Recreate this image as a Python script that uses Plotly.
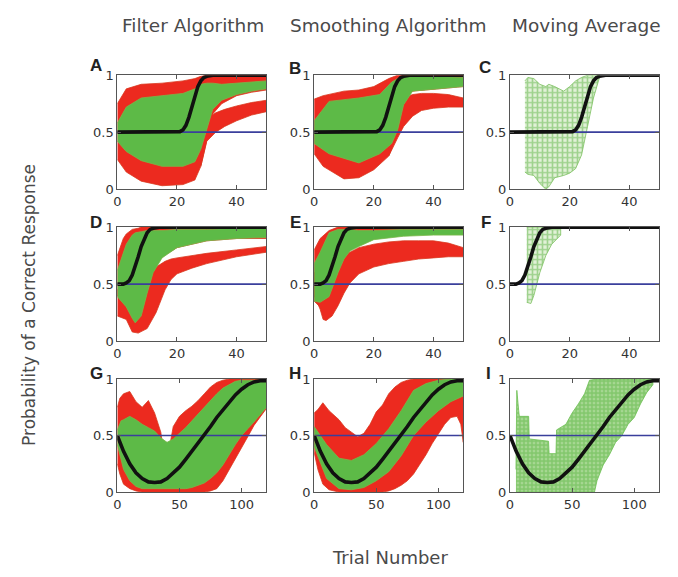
import plotly.graph_objects as go

# ---------------- data ----------------
# true probability curves (black)
X_SIG = [0, 5, 10, 15, 18, 20, 21, 22, 23, 24, 25, 26, 27, 28, 29, 30, 32, 35, 40, 45, 50]
TRUE_SIG = [0.5, 0.5, 0.5, 0.5, 0.5, 0.5, 0.505, 0.52, 0.56, 0.63, 0.72, 0.82, 0.9, 0.95, 0.98, 0.99, 1.0, 1.0, 1.0, 1.0, 1.0]
X_FAST = [0, 1, 2, 3, 4, 5, 6, 7, 8, 9, 10, 11, 12, 14, 20, 30, 40, 50]
TRUE_FAST = [0.5, 0.5, 0.5, 0.51, 0.53, 0.58, 0.65, 0.74, 0.83, 0.9, 0.95, 0.98, 0.99, 1.0, 1.0, 1.0, 1.0, 1.0]
X_SLOW = [0, 5, 10, 15, 20, 25, 30, 35, 40, 45, 50, 55, 60, 65, 70, 75, 80, 85, 90, 95, 100, 105, 110, 115, 120]
TRUE_SLOW = [0.5, 0.36, 0.25, 0.17, 0.12, 0.09, 0.085, 0.09, 0.12, 0.17, 0.22, 0.29, 0.36, 0.43, 0.5,
             0.58, 0.66, 0.73, 0.8, 0.86, 0.91, 0.95, 0.975, 0.985, 0.985]

# Panel A (filter, row 1)
A_R1_X = [0, 3, 8, 15, 22, 26, 28, 30, 32, 35, 40, 45, 50]
A_R1_HI = [0.75, 0.88, 0.92, 0.93, 0.95, 0.97, 0.99, 1.0, 1.0, 1.0, 1.0, 1.0, 1.0]
A_R1_LO = [0.26, 0.15, 0.07, 0.03, 0.04, 0.08, 0.20, 0.42, 0.66, 0.75, 0.82, 0.85, 0.87]
A_R2_X = [28, 30, 33, 36, 40, 45, 50]
A_R2_HI = [0.50, 0.62, 0.67, 0.70, 0.73, 0.76, 0.78]
A_R2_LO = [0.20, 0.42, 0.50, 0.55, 0.60, 0.65, 0.68]
A_G_X = [0, 3, 8, 15, 22, 26, 28, 30, 32, 35, 40, 45, 50]
A_G_HI = [0.58, 0.72, 0.80, 0.82, 0.84, 0.88, 0.92, 0.93, 0.93, 0.92, 0.93, 0.94, 0.95]
A_G_LO = [0.42, 0.33, 0.25, 0.20, 0.20, 0.24, 0.35, 0.52, 0.70, 0.78, 0.83, 0.86, 0.88]

# Panel B (smoothing, row 1)
B_R1_X = [0, 3, 10, 15, 20, 25, 27, 28, 30, 33, 36, 40, 50]
B_R1_HI = [0.79, 0.82, 0.86, 0.87, 0.90, 0.97, 0.99, 1.0, 1.0, 1.0, 1.0, 1.0, 1.0]
B_R1_LO = [0.31, 0.20, 0.09, 0.10, 0.17, 0.29, 0.43, 0.54, 0.82, 0.86, 0.87, 0.88, 0.90]
B_R2_X = [25, 28, 30, 33, 36, 40, 45, 50]
B_R2_HI = [0.55, 0.75, 0.80, 0.83, 0.84, 0.84, 0.83, 0.80]
B_R2_LO = [0.29, 0.45, 0.55, 0.64, 0.69, 0.71, 0.72, 0.72]
B_G_X = [0, 5, 15, 22, 26, 28, 30, 33, 40, 50]
B_G_HI = [0.60, 0.77, 0.80, 0.83, 0.94, 0.97, 0.99, 1.0, 0.99, 0.98]
B_G_LO = [0.40, 0.31, 0.23, 0.31, 0.40, 0.52, 0.74, 0.86, 0.88, 0.90]

# Panel C (moving average, row 1)
C_G_X = [5, 6, 8, 10, 12, 13, 15, 18, 20, 22, 24, 26, 28, 30]
C_G_HI = [0.95, 0.98, 0.97, 0.92, 0.90, 0.92, 0.90, 0.86, 0.90, 0.95, 0.98, 1.0, 1.0, 1.0]
C_G_LO = [0.15, 0.13, 0.12, 0.05, 0.0, 0.02, 0.10, 0.12, 0.14, 0.18, 0.30, 0.55, 0.80, 0.98]

# Panel D (filter, row 2)
D_R1_X = [0, 2, 3, 5, 7, 8, 10, 12, 15, 20, 30, 40, 50]
D_R1_HI = [0.75, 0.90, 0.94, 0.98, 0.99, 1.0, 1.0, 1.0, 1.0, 1.0, 1.0, 1.0, 1.0]
D_R1_LO = [0.40, 0.35, 0.30, 0.25, 0.25, 0.30, 0.45, 0.62, 0.74, 0.82, 0.88, 0.90, 0.90]
D_R2_X = [0, 3, 5, 7, 10, 13, 16, 18, 20, 25, 30, 40, 50]
D_R2_HI = [0.45, 0.50, 0.50, 0.52, 0.56, 0.65, 0.70, 0.72, 0.73, 0.75, 0.77, 0.80, 0.83]
D_R2_LO = [0.22, 0.19, 0.08, 0.07, 0.11, 0.25, 0.45, 0.54, 0.59, 0.64, 0.68, 0.74, 0.78]
D_G_X = [0, 3, 5, 6, 8, 10, 12, 15, 20, 30, 40, 50]
D_G_HI = [0.62, 0.85, 0.93, 0.95, 0.96, 0.97, 0.97, 0.97, 0.98, 0.98, 0.99, 0.99]
D_G_LO = [0.39, 0.30, 0.20, 0.16, 0.22, 0.42, 0.60, 0.73, 0.82, 0.88, 0.90, 0.91]

# Panel E (smoothing, row 2)
E_R1_X = [0, 2, 5, 8, 10, 12, 15, 20, 30, 40, 50]
E_R1_HI = [0.80, 0.90, 0.97, 1.0, 1.0, 1.0, 1.0, 1.0, 1.0, 1.0, 1.0]
E_R1_LO = [0.35, 0.30, 0.30, 0.50, 0.70, 0.80, 0.84, 0.90, 0.93, 0.94, 0.94]
E_R2_X = [0, 2, 3, 4, 6, 8, 10, 12, 15, 20, 25, 30, 35, 40, 45, 50]
E_R2_HI = [0.60, 0.60, 0.60, 0.62, 0.65, 0.70, 0.74, 0.78, 0.82, 0.85, 0.87, 0.88, 0.88, 0.88, 0.86, 0.82]
E_R2_LO = [0.40, 0.28, 0.19, 0.18, 0.22, 0.31, 0.42, 0.51, 0.59, 0.65, 0.68, 0.70, 0.72, 0.73, 0.74, 0.74]
E_G_X = [0, 2, 5, 8, 10, 12, 15, 20, 30, 40, 50]
E_G_HI = [0.68, 0.78, 0.95, 0.98, 0.98, 0.98, 0.97, 0.97, 0.98, 0.98, 0.98]
E_G_LO = [0.35, 0.34, 0.39, 0.60, 0.72, 0.79, 0.83, 0.89, 0.92, 0.93, 0.93]

# Panel F (moving average, row 2)
F_G_X = [5.6, 7, 8, 9, 10, 12, 14, 17]
F_G_HI = [1.0, 1.0, 1.0, 1.0, 1.0, 1.0, 1.0, 1.0]
F_G_LO = [0.34, 0.33, 0.40, 0.50, 0.60, 0.75, 0.85, 0.93]

# Panel G (filter, row 3)
G_R_X = [0, 2, 5, 10, 15, 20, 25, 30, 35, 38, 42, 45, 50, 55, 60, 65, 70, 75, 80, 85, 90, 95, 100, 105, 110, 115, 120]
G_R_HI = [0.75, 0.83, 0.87, 0.89, 0.80, 0.75, 0.81, 0.70, 0.53, 0.29, 0.40, 0.58, 0.67, 0.72, 0.76, 0.81, 0.87,
          0.93, 0.97, 0.99, 1.0, 1.0, 1.0, 1.0, 1.0, 1.0, 1.0]
G_R_LO = [0.25, 0.16, 0.07, 0.03, 0.01, 0.0, 0.0, 0.0, 0.0, 0.0, 0.0, 0.0, 0.0, 0.0, 0.0, 0.0, 0.0,
          0.01, 0.03, 0.10, 0.19, 0.29, 0.39, 0.49, 0.59, 0.67, 0.74]
G_G_X = [0, 3, 5, 10, 15, 20, 25, 30, 35, 40, 45, 50, 55, 60, 65, 70, 75, 80, 85, 90, 95, 100, 105, 110, 115, 120]
G_G_HI = [0.55, 0.63, 0.64, 0.67, 0.64, 0.60, 0.57, 0.54, 0.48, 0.44, 0.47, 0.52, 0.57, 0.63, 0.69, 0.75, 0.81,
          0.87, 0.92, 0.95, 0.98, 0.99, 0.99, 0.99, 0.99, 0.99]
G_G_LO = [0.42, 0.28, 0.20, 0.10, 0.05, 0.03, 0.03, 0.03, 0.03, 0.03, 0.03, 0.03, 0.03, 0.04, 0.06, 0.08, 0.12,
          0.17, 0.24, 0.33, 0.42, 0.50, 0.56, 0.62, 0.68, 0.75]

# Panel H (smoothing, row 3)
H_R_X = [0, 3, 7, 12, 20, 25, 30, 35, 40, 45, 50, 55, 60, 65, 70, 75, 80, 85, 90, 95, 100, 105, 110, 115, 118, 120]
H_R_HI = [0.70, 0.73, 0.79, 0.72, 0.64, 0.57, 0.53, 0.49, 0.52, 0.60, 0.71, 0.77, 0.87, 0.93, 0.97, 0.99,
          1.0, 1.0, 1.0, 1.0, 1.0, 1.0, 1.0, 1.0, 1.0, 1.0]
H_R_LO = [0.35, 0.20, 0.07, 0.02, 0.0, 0.0, 0.0, 0.0, 0.0, 0.0, 0.0, 0.0, 0.01, 0.03, 0.06, 0.10,
          0.16, 0.24, 0.33, 0.43, 0.52, 0.60, 0.66, 0.67, 0.60, 0.44]
H_G_X = [0, 10, 20, 30, 40, 50, 60, 70, 80, 90, 100, 110, 120]
H_G_HI = [0.58, 0.42, 0.30, 0.28, 0.33, 0.43, 0.56, 0.72, 0.90, 0.96, 0.99, 1.0, 1.0]
H_G_LO = [0.40, 0.12, 0.03, 0.02, 0.04, 0.10, 0.18, 0.32, 0.50, 0.62, 0.72, 0.80, 0.85]

# Panel I (moving average, row 3)
I_TOP_X = [4.8, 5.5, 7, 7.5, 15, 15.5, 31, 31.5, 37, 37.5, 45, 50, 55, 60, 64, 70, 115]
I_TOP = [0.2, 0.9, 0.72, 0.67, 0.67, 0.47, 0.45, 0.34, 0.34, 0.55, 0.6, 0.7, 0.78, 0.87, 0.99, 1.0, 1.0]
I_BOT_X = [4.8, 68, 70, 75, 80, 85, 90, 95, 100, 105, 110, 115]
I_BOT = [0.0, 0.0, 0.1, 0.24, 0.33, 0.44, 0.5, 0.6, 0.66, 0.78, 0.88, 0.95]

COLUMN_TITLES = ["Filter Algorithm", "Smoothing Algorithm", "Moving Average"]
PANEL_LETTERS = ["A", "B", "C", "D", "E", "F", "G", "H", "I"]
Y_TICKS = [0, 0.5, 1]
Y_TICKTEXT = ["0", "0.5", "1"]
X_TICKS_SHORT = [0, 20, 40]
X_TICKS_LONG = [0, 50, 100]

# ---------------- styling / layout ----------------
W, H = 678, 577
COL_PX = [(114, 264), (312, 462), (509, 659)]
ROW_PX = [(70, 187), (226, 343), (382, 498)]
LETTER_PX = [(93, 60), (293, 63), (484, 62), (93, 221), (293, 221), (485, 221),
             (93, 376), (293, 376), (487, 376)]
RED = "#ec2a1f"
RED_EDGE = "#d9381f"
GREEN = "#5dba47"
GREEN_EDGE = "#79b84a"
BLUE = "#3a3f9c"
AXC = "#555555"
FONT = "DejaVu Sans"

fig = go.Figure()


def axnames(k):
    return ("x" if k == 1 else f"x{k}"), ("y" if k == 1 else f"y{k}")


def band(k, xh, yh, xl, yl, color, edge, pattern=None, opacity=1.0):
    xa, ya = axnames(k)
    xs = list(xh) + list(xl)[::-1]
    ys = list(yh) + list(yl)[::-1]
    kw = dict(x=xs, y=ys, fill="toself", mode="lines", line=dict(width=0.8, color=edge),
              fillcolor=color, hoverinfo="skip", showlegend=False, xaxis=xa, yaxis=ya,
              opacity=opacity)
    if pattern:
        kw["fillpattern"] = pattern
    fig.add_trace(go.Scatter(**kw))


def line(k, xs, ys, color, width):
    xa, ya = axnames(k)
    fig.add_trace(go.Scatter(x=xs, y=ys, mode="lines", line=dict(color=color, width=width),
                             hoverinfo="skip", showlegend=False, xaxis=xa, yaxis=ya))


HATCH = dict(shape="+", fgcolor="#5cb444", bgcolor="#e2f1d8", size=5, solidity=0.55)
HATCH_DENSE = dict(shape="+", fgcolor="#5db745", bgcolor="#a6d792", size=4, solidity=0.6)

# A
band(1, A_R1_X, A_R1_HI, A_R1_X, A_R1_LO, RED, RED_EDGE)
band(1, A_R2_X, A_R2_HI, A_R2_X, A_R2_LO, RED, RED_EDGE)
band(1, A_G_X, A_G_HI, A_G_X, A_G_LO, GREEN, GREEN_EDGE)
# B
band(2, B_R1_X, B_R1_HI, B_R1_X, B_R1_LO, RED, RED_EDGE)
band(2, B_R2_X, B_R2_HI, B_R2_X, B_R2_LO, RED, RED_EDGE)
band(2, B_G_X, B_G_HI, B_G_X, B_G_LO, GREEN, GREEN_EDGE)
# C
band(3, C_G_X, C_G_HI, C_G_X, C_G_LO, "#e2f1d8", "#7cc060", pattern=HATCH)
# D
band(4, D_R1_X, D_R1_HI, D_R1_X, D_R1_LO, RED, RED_EDGE)
band(4, D_R2_X, D_R2_HI, D_R2_X, D_R2_LO, RED, RED_EDGE)
band(4, D_G_X, D_G_HI, D_G_X, D_G_LO, GREEN, GREEN_EDGE)
# E
band(5, E_R1_X, E_R1_HI, E_R1_X, E_R1_LO, RED, RED_EDGE)
band(5, E_R2_X, E_R2_HI, E_R2_X, E_R2_LO, RED, RED_EDGE)
band(5, E_G_X, E_G_HI, E_G_X, E_G_LO, GREEN, GREEN_EDGE)
# F
band(6, F_G_X, F_G_HI, F_G_X, F_G_LO, "#e2f1d8", "#7cc060", pattern=HATCH)
# G
band(7, G_R_X, G_R_HI, G_R_X, G_R_LO, RED, RED_EDGE)
band(7, G_G_X, G_G_HI, G_G_X, G_G_LO, GREEN, GREEN_EDGE)
# H
band(8, H_R_X, H_R_HI, H_R_X, H_R_LO, RED, RED_EDGE)
band(8, H_G_X, H_G_HI, H_G_X, H_G_LO, GREEN, GREEN_EDGE)
# I
band(9, I_TOP_X, I_TOP, I_BOT_X, I_BOT, "#a6d792", "#6cbf52", pattern=HATCH_DENSE)

for r in range(3):
    for c in range(3):
        k = r * 3 + c + 1
        if r == 0:
            xs, ys, xmax = X_SIG, TRUE_SIG, 50
        elif r == 1:
            xs, ys, xmax = X_FAST, TRUE_FAST, 50
        else:
            xs, ys, xmax = X_SLOW, TRUE_SLOW, 120
        line(k, [0, xmax], [0.5, 0.5], BLUE, 1.6)
        line(k, xs, ys, "#111111", 3.6)

layout = dict(width=W, height=H, autosize=False, margin=dict(l=0, r=0, t=0, b=0),
              paper_bgcolor="white", plot_bgcolor="white", showlegend=False)
annotations = []
for r in range(3):
    for c in range(3):
        k = r * 3 + c + 1
        x0, x1 = COL_PX[c]
        y0, y1 = ROW_PX[r]
        xmax = 120 if r == 2 else 50
        xt = X_TICKS_LONG if r == 2 else X_TICKS_SHORT
        xkey = "xaxis" if k == 1 else f"xaxis{k}"
        ykey = "yaxis" if k == 1 else f"yaxis{k}"
        xa, ya = axnames(k)
        common = dict(showline=True, linecolor=AXC, linewidth=1, mirror="ticks", ticks="inside",
                      ticklen=4, tickcolor=AXC, showgrid=False, zeroline=False, fixedrange=True,
                      tickfont=dict(family=FONT, size=13, color="#333333"))
        layout[xkey] = dict(domain=[x0 / W, x1 / W], range=[0, xmax], anchor=ya,
                            tickvals=xt, ticktext=[str(v) for v in xt], **common)
        layout[ykey] = dict(domain=[1 - y1 / H, 1 - y0 / H], range=[0, 1], anchor=xa,
                            tickvals=Y_TICKS, ticktext=Y_TICKTEXT, **common)
        lx, ly = LETTER_PX[k - 1]
        annotations.append(dict(text=f"<b>{PANEL_LETTERS[k - 1]}</b>", x=lx / W, y=1 - ly / H,
                                xref="paper", yref="paper", showarrow=False,
                                xanchor="center", yanchor="middle",
                                font=dict(family="Liberation Sans", size=17, color="#222222")))

TITLE_X = [190, 386, 586]
for c in range(3):
    annotations.append(dict(text=COLUMN_TITLES[c], x=TITLE_X[c] / W, y=1 - 19 / H, xref="paper",
                            yref="paper", showarrow=False, xanchor="center", yanchor="middle",
                            font=dict(family=FONT, size=18.5, color="#4a4a4a")))
annotations.append(dict(text="Probability of a Correct Response", x=25 / W, y=1 - 306 / H,
                        xref="paper", yref="paper", showarrow=False, textangle=-90,
                        xanchor="center", yanchor="middle",
                        font=dict(family=FONT, size=17, color="#4a4a4a")))
annotations.append(dict(text="Trial Number", x=388 / W, y=1 - 565 / H, xref="paper", yref="paper",
                        showarrow=False, xanchor="center", yanchor="middle",
                        font=dict(family=FONT, size=18, color="#4a4a4a")))
layout["annotations"] = annotations
fig.update_layout(**layout)
fig.write_html("out.html", config={"displayModeBar": False},
               post_script="document.body.style.margin='0';document.body.style.overflow='hidden';")
